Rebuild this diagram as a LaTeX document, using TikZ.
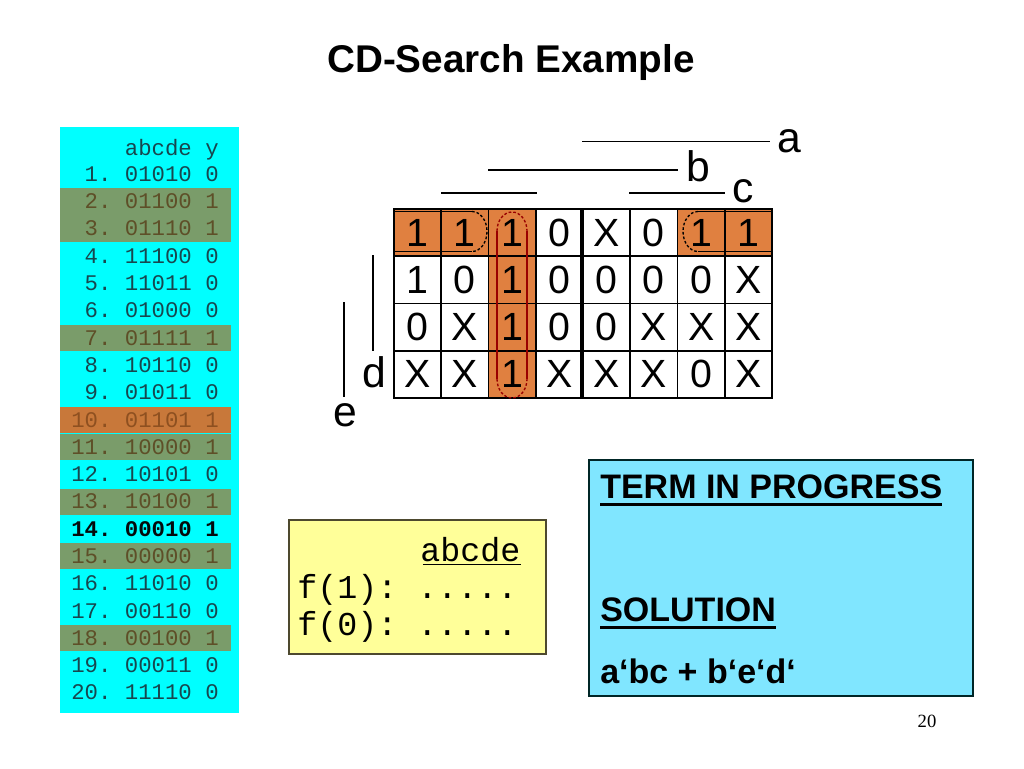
\documentclass[tikz,border=0pt]{standalone}
\usepackage{fontspec}
\setmainfont{Liberation Sans}
\newfontfamily\monofont{Liberation Mono}
\newfontfamily\seriffont{Liberation Serif}
\definecolor{tblcyan}{HTML}{00FFFF}
\definecolor{bandgreen}{HTML}{7A9C6A}
\definecolor{bandorange}{HTML}{C8783A}
\definecolor{kmorange}{HTML}{E08040}
\definecolor{loopred}{HTML}{990000}
\definecolor{boxyellow}{HTML}{FFFF99}
\definecolor{boxblue}{HTML}{80E6FF}
\definecolor{txtteal}{HTML}{17474F}
\definecolor{txtbrown}{HTML}{5E4F28}
\definecolor{txtsienna}{HTML}{8E5020}
\begin{document}
\begin{tikzpicture}[x=0.75pt,y=-0.75pt,
  tbase/.style={anchor=base west,inner sep=0pt,font=\monofont\fontsize{16.75}{18}\selectfont},
  tnorm/.style={tbase,text=txtteal},
  tgreen/.style={tbase,text=txtbrown},
  torange/.style={tbase,text=txtsienna},
  tbold/.style={tbase,text=black!85!txtteal,font=\monofont\bfseries\fontsize{16.75}{18}\selectfont},
  kcell/.style={draw=black,line width=1.2pt,minimum size=35.44pt,inner sep=0pt,font=\fontsize{29.5}{30}\selectfont},
  varline/.style={line width=1.1pt},
  varlabel/.style={inner sep=0pt,font=\fontsize{32}{34}\selectfont},
  loopline/.style={line width=1pt},
  ymono/.style={anchor=base west,inner sep=0pt,font=\monofont\fontsize{25}{27}\selectfont},
  bluetext/.style={anchor=base west,inner sep=0pt,font=\bfseries\fontsize{25.5}{27}\selectfont},
  uline/.style={line width=1.9pt}
]
\useasboundingbox (0,0) rectangle (1024,768);
\fill[white] (0,0) rectangle (1024,768);

% title
\node[anchor=base,inner sep=0pt,font=\bfseries\fontsize{29}{31}\selectfont] (title) at (511,72) {CD-Search Example};

% truth table
\fill[tblcyan] (60,127) rectangle (239,713);
\fill[bandgreen] (60,188.3) rectangle (231,241.6);
\fill[bandgreen] (60,324.7) rectangle (231,350.7);
\fill[bandorange] (60,406.6) rectangle (231,432.8);
\fill[bandgreen] (60,433.6) rectangle (231,459.9);
\fill[bandgreen] (60,488.5) rectangle (231,514.5);
\fill[bandgreen] (60,543.1) rectangle (231,569.1);
\fill[bandgreen] (60,624.9) rectangle (231,650.9);
\node[tnorm] (hdr) at (71,155) {\phantom{20.\ }abcde\ y};
\foreach \k/\bits/\vv/\sty in {1/01010/0/tnorm,2/01100/1/tgreen,3/01110/1/tgreen,4/11100/0/tnorm,
  5/11011/0/tnorm,6/01000/0/tnorm,7/01111/1/tgreen,8/10110/0/tnorm,9/01011/0/tnorm,
  10/01101/1/torange,11/10000/1/tgreen,12/10101/0/tnorm,13/10100/1/tgreen,14/00010/1/tbold,
  15/00000/1/tgreen,16/11010/0/tnorm,17/00110/0/tnorm,18/00100/1/tgreen,19/00011/0/tnorm,20/11110/0/tnorm}{
  \pgfmathsetmacro\cy{174+27.29*(\k-1)+7.4}
  \node[\sty] (row\k) at (71,\cy) {\ifnum\k<10 \phantom{1}\fi\k.\ \bits\ \vv};
}

% K-map fills
\fill[kmorange] (394,209) rectangle (535.75,256.25);
\fill[kmorange] (677.5,209) rectangle (772,256.25);
\fill[kmorange] (488.5,256.25) rectangle (535.75,398);

% K-map cells
\foreach \r [count=\j] in {{1,1,1,0,X,0,1,1},{1,0,1,0,0,0,0,X},{0,X,1,0,0,X,X,X},{X,X,1,X,X,X,0,X}}{
  \foreach \vv [count=\i] in \r {
    \node[kcell] (k\j\i) at ({394+47.25*(\i-0.5)},{209+47.25*(\j-0.5)}) {\vv};
  }
}
\draw[line width=2.6pt] (k15.north west) -- (k45.south west);

% loops in row 1
\draw[loopline] (394,211.5) -- (472,211.5) (394,251.5) -- (472,251.5);
\draw[loopline,dash pattern=on 2pt off 1.5pt] (472,211.5) arc[start angle=-90,end angle=90,x radius=15,y radius=20];
\draw[loopline] (698,211.5) -- (772,211.5) (698,251.5) -- (772,251.5);
\draw[loopline,dash pattern=on 2pt off 1.5pt] (698,211.5) arc[start angle=-90,end angle=-270,x radius=15,y radius=20];
% column loop
\draw[loopline,draw=loopred] (497,231) -- (497,379) (527,231) -- (527,379);
\draw[loopline,draw=loopred,dash pattern=on 2pt off 1.5pt] (497,231) arc[start angle=180,end angle=360,x radius=15,y radius=19];
\draw[loopline,draw=loopred,dash pattern=on 2pt off 1.5pt] (497,379) arc[start angle=180,end angle=0,x radius=15,y radius=19];

% variable bars and labels
\node[varlabel] (la) at (789,141.5) {a};
\node[varlabel] (lb) at (698,166.7) {b};
\node[varlabel] (lc) at (743.5,191.7) {c};
\node[varlabel] (ld) at (374,372) {d};
\node[varlabel] (le) at (345,415) {e};
\coordinate (a1) at (582,141.7); \coordinate (a2) at (770,141.7);
\coordinate (b1) at (488,170); \coordinate (b2) at (678,170);
\coordinate (c1) at (441,193); \coordinate (c2) at (537,193);
\coordinate (c3) at (629,193); \coordinate (c4) at (725,193);
\coordinate (d1) at (373,255); \coordinate (d2) at (373,351);
\coordinate (e1) at (344,302); \coordinate (e2) at (344,397);
\draw[varline] (a1) -- (a2);
\draw[varline] (b1) -- (b2);
\draw[varline] (c1) -- (c2);
\draw[varline] (c3) -- (c4);
\draw[varline] (d1) -- (d2);
\draw[varline] (e1) -- (e2);

% yellow box
\draw[fill=boxyellow,draw=black!60!olive,line width=0.8pt] (289,520) rectangle (546,654);
\node[ymono] (yabc) at (420,561) {abcde};
\draw[line width=1.4pt] ([xshift=2.2pt,yshift=-2.6pt]yabc.base west) -- ([yshift=-2.6pt]yabc.base east);
\node[ymono] (yf1) at (297,598) {f(1):\ .....};
\node[ymono] (yf0) at (297,635) {f(0):\ .....};

% blue box
\draw[fill=boxblue,draw=black!70!teal,line width=0.8pt] (589,460) rectangle (973,696);
\node[bluetext] (term) at (600,498.3) {TERM IN PROGRESS};
\draw[uline] ([yshift=-4.5pt]term.base west) -- ([yshift=-4.5pt]term.base east);
\node[bluetext] (sol) at (600,621.7) {SOLUTION};
\draw[uline] ([yshift=-4.5pt]sol.base west) -- ([yshift=-4.5pt]sol.base east);
\node[bluetext] (expr) at (600,683.3) {a‘bc + b‘e‘d‘};

% page number
\node[anchor=base,inner sep=0pt,font=\seriffont\fontsize{14}{16}\selectfont] (pg) at (927,727) {20};
\end{tikzpicture}
\end{document}
